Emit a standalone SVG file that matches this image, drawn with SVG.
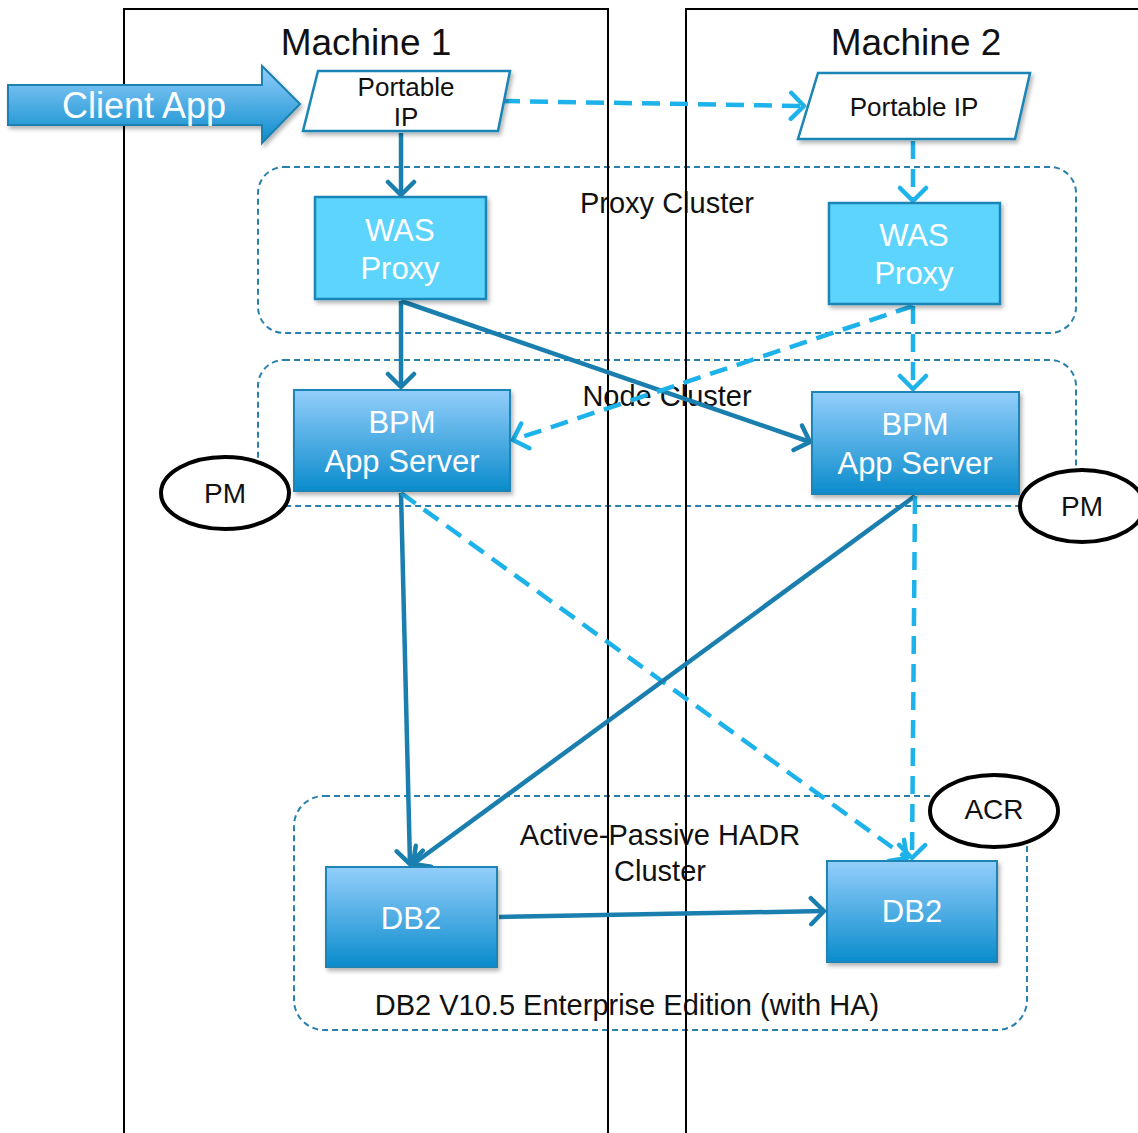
<svg xmlns="http://www.w3.org/2000/svg" width="1138" height="1133" viewBox="0 0 1138 1133">
<defs>
<linearGradient id="gBlue" x1="0" y1="0" x2="0" y2="1">
<stop offset="0" stop-color="#93cefb"/>
<stop offset="1" stop-color="#0b8ccc"/>
</linearGradient>
<filter id="sh" x="-10%" y="-10%" width="130%" height="140%">
<feDropShadow dx="2" dy="3" stdDeviation="2" flood-color="#000" flood-opacity="0.3"/>
</filter>
<marker id="aDark" markerUnits="userSpaceOnUse" viewBox="-17 -16 21 32" markerWidth="21" markerHeight="32" refX="0" refY="0" orient="auto">
<path d="M-13,-13 L0,0 L-13,13" fill="none" stroke="#1a7fae" stroke-width="4.5" stroke-linecap="round" stroke-linejoin="round"/>
</marker>
<marker id="aLight" markerUnits="userSpaceOnUse" viewBox="-17 -16 21 32" markerWidth="21" markerHeight="32" refX="0" refY="0" orient="auto">
<path d="M-13,-13 L0,0 L-13,13" fill="none" stroke="#1eb2ea" stroke-width="4.5" stroke-linecap="round" stroke-linejoin="round"/>
</marker>
</defs>
<style>
text{font-family:"Liberation Sans",Arial,sans-serif;}
.cluster{fill:none;stroke:#2a80ad;stroke-width:2;stroke-dasharray:6 4;}
.clabel{font-size:29px;fill:#111;text-anchor:middle;}
.machine{fill:none;stroke:#000;stroke-width:2;}
.mtitle{font-size:37px;fill:#111;text-anchor:middle;}
.solid{fill:none;stroke:#1a7fae;stroke-width:4.5;marker-end:url(#aDark);}
.dash{fill:none;stroke:#1eb2ea;stroke-width:4.5;stroke-dasharray:18 10;marker-end:url(#aLight);}
.was{fill:#5dd4fc;stroke:#1a85b6;stroke-width:2.5;filter:url(#sh);}
.bpm{fill:url(#gBlue);stroke:#1a85b6;stroke-width:2;filter:url(#sh);}
.wtxt{font-size:31px;fill:#fff;text-anchor:middle;}
.pip{fill:#fff;stroke:#1a85b6;stroke-width:2.5;filter:url(#sh);}
.ptxt{font-size:26px;fill:#111;text-anchor:middle;}
.oval{fill:#fff;stroke:#000;stroke-width:4;}
.otxt{font-size:28px;fill:#111;text-anchor:middle;}
</style>
<rect width="1138" height="1133" fill="#fff"/>

<g id="clusters">
<g id="proxy-cluster">
<rect class="cluster" x="258" y="167" width="818" height="166" rx="26"/>
<text class="clabel" x="667" y="213">Proxy Cluster</text>
</g>
<g id="node-cluster">
<rect class="cluster" x="258" y="360" width="818" height="146" rx="26"/>
<text class="clabel" x="667" y="406">Node Cluster</text>
</g>
<g id="hadr-cluster">
<rect class="cluster" x="294" y="796" width="733" height="234" rx="30"/>
<text class="clabel" x="660" y="845">Active-Passive HADR</text>
<text class="clabel" x="660" y="881">Cluster</text>
<text class="clabel" x="627" y="1015">DB2 V10.5 Enterprise Edition (with HA)</text>
</g>
</g>

<g id="machines">
<g id="machine1">
<rect class="machine" x="124" y="9" width="484" height="1140"/>
<text class="mtitle" x="366" y="55">Machine 1</text>
</g>
<g id="machine2">
<rect class="machine" x="686" y="9" width="470" height="1140"/>
<text class="mtitle" x="916" y="55">Machine 2</text>
</g>
</g>

<g id="connectors">
<line class="solid" x1="401" y1="133" x2="401" y2="195"/>
<line class="dash" x1="502" y1="101" x2="804" y2="106"/>
<line class="dash" x1="913" y1="141" x2="913" y2="201"/>
<line class="solid" x1="401" y1="301" x2="401" y2="387"/>
<line class="solid" x1="401" y1="301" x2="810" y2="442"/>
<line class="dash" x1="913" y1="306" x2="513" y2="440"/>
<line class="dash" x1="913" y1="306" x2="913" y2="389"/>
<line class="solid" x1="401" y1="493" x2="410" y2="864"/>
<line class="dash" x1="401" y1="493" x2="907" y2="858"/>
<line class="solid" x1="915" y1="496" x2="413" y2="864"/>
<line class="dash" x1="915" y1="496" x2="912" y2="858"/>
<line class="solid" x1="499" y1="917" x2="824" y2="911"/>
</g>

<g id="client-app">
<path d="M8,85 L262,85 L262,66 L300,104 L262,143 L262,125 L8,125 Z" fill="url(#gBlue)" stroke="#1a80b0" stroke-width="2" filter="url(#sh)"/>
<text x="144" y="118" font-size="36" fill="#fff" text-anchor="middle">Client App</text>
</g>

<g id="portable-ip-1">
<path class="pip" d="M318,71 L510,71 L498,131 L303,131 Z"/>
<text class="ptxt" x="406" y="96">Portable</text>
<text class="ptxt" x="406" y="126">IP</text>
</g>

<g id="portable-ip-2">
<path class="pip" d="M818,73 L1030,73 L1015,139 L798,139 Z"/>
<text class="ptxt" x="914" y="116">Portable IP</text>
</g>

<g id="was-proxy-1">
<rect class="was" x="315" y="197" width="171" height="102"/>
<text class="wtxt" x="400" y="241">WAS</text>
<text class="wtxt" x="400" y="279">Proxy</text>
</g>

<g id="was-proxy-2">
<rect class="was" x="829" y="203" width="171" height="101"/>
<text class="wtxt" x="914" y="246">WAS</text>
<text class="wtxt" x="914" y="284">Proxy</text>
</g>

<g id="bpm-1">
<rect class="bpm" x="294" y="390" width="216" height="101"/>
<text class="wtxt" x="402" y="433">BPM</text>
<text class="wtxt" x="402" y="472">App Server</text>
</g>

<g id="bpm-2">
<rect class="bpm" x="812" y="392" width="207" height="102"/>
<text class="wtxt" x="915" y="435">BPM</text>
<text class="wtxt" x="915" y="474">App Server</text>
</g>

<g id="db2-1">
<rect class="bpm" x="326" y="867" width="171" height="100"/>
<text class="wtxt" x="411" y="929">DB2</text>
</g>

<g id="db2-2">
<rect class="bpm" x="827" y="861" width="170" height="101"/>
<text class="wtxt" x="912" y="922">DB2</text>
</g>

<g id="pm-1">
<ellipse class="oval" cx="225" cy="493" rx="64" ry="36"/>
<text class="otxt" x="225" y="503">PM</text>
</g>

<g id="pm-2">
<ellipse class="oval" cx="1082" cy="506" rx="62" ry="36"/>
<text class="otxt" x="1082" y="516">PM</text>
</g>

<g id="acr">
<ellipse class="oval" cx="994" cy="811" rx="64" ry="36"/>
<text class="otxt" x="994" y="819" font-size="23">ACR</text>
</g>
</svg>
